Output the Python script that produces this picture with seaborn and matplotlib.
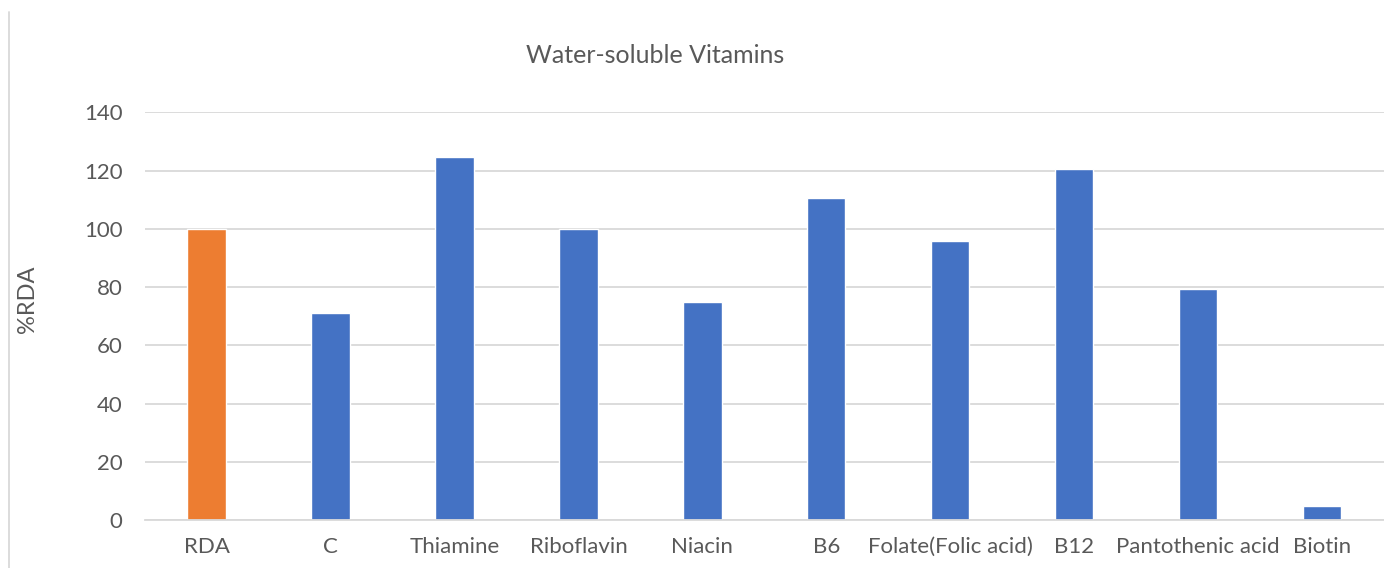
import pandas as pd
import seaborn as sns
import matplotlib.pyplot as plt
from matplotlib.lines import Line2D

# Valeurs
vitamins = ["RDA", "C", "Thiamine", "Riboflavin", "Niacin", "B6",
            "Folate(Folic acid)", "B12", "Pantothenic acid", "Biotin"]
pct_rda = [100, 71, 124.7, 100, 75, 110.5, 96, 120.5, 79.5, 5]
groups = ["ref"] + ["vit"] * 9

df = pd.DataFrame({"vitamin": vitamins, "pct": pct_rda, "group": groups})

sns.set_theme(style="white")
plt.rcParams["font.family"] = ["Lato", "DejaVu Sans"]

fig = plt.figure(figsize=(13.84, 5.68), dpi=100)
ax = fig.add_axes([0.1045, 0.0838, 0.8955, 0.7185])

sns.barplot(x="vitamin", y="pct", data=df, hue="group",
            palette={"ref": "#ED7D31", "vit": "#4472C4"},
            width=0.31, dodge=False, legend=False, ax=ax, saturation=1)

ax.set_ylim(0, 140)
ax.set_yticks(range(0, 141, 20))
ax.set_xlim(-0.5, len(vitamins) - 0.5)
ax.yaxis.grid(True, color="#D9D9D9", linewidth=1.3)
ax.set_axisbelow(True)
for s in ["top", "right", "left"]:
    ax.spines[s].set_visible(False)
ax.spines["bottom"].set_color("#D9D9D9")
ax.spines["bottom"].set_linewidth(1.3)
ax.tick_params(axis="both", length=0, labelsize=16, colors="#595959")
ax.tick_params(axis="x", pad=12)
ax.tick_params(axis="y", pad=16)
ax.set_xlabel("")
ax.set_ylabel("%RDA", fontsize=17, color="#595959")
ax.yaxis.set_label_coords(-0.086, 0.543)

fig.text(0.473, 0.903, "Water-soluble Vitamins", ha="center", va="center",
         fontsize=18, color="#595959")

# bordure grise à gauche
fig.add_artist(Line2D([0.0065, 0.0065], [0, 0.979], color="#D9D9D9",
                      linewidth=1.3, transform=fig.transFigure))

fig.savefig("out.png", dpi=100)
